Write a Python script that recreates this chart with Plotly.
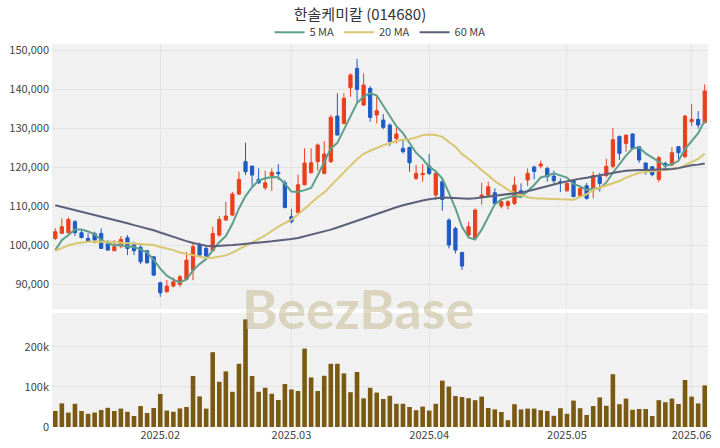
import numpy as np
import pandas as pd
import plotly.graph_objects as go

# ---- data ----
open_ = [101700, 103000, 103150, 105970, 103150, 101700, 102980, 102980, 100240, 98530,
         99730, 101860, 100240, 99390, 98530, 96990, 90320, 88010, 89470, 89900,
         91180, 93570, 99990, 99130, 98530, 102550, 106400, 107680, 113060, 121360,
         120250, 116830, 114690, 117760, 118630, 115970, 107250, 108360, 115460, 118540,
         121360, 118370, 121360, 133070, 131190, 140340, 145300, 135890, 140170, 133330,
         132050, 130770, 127340, 124780, 125030, 117080, 118030, 120250, 112800, 116230,
         106400, 104260, 98100, 102550, 101700, 112370, 112800, 113400, 109980, 110160,
         110670, 113910, 116660, 120000, 120250, 119650, 117680, 116230, 113910, 116490,
         112620, 115200, 114090, 117510, 117850, 120170, 127850, 126060, 128460, 125210,
         121020, 120080, 116830, 120930, 120510, 125210, 122660, 131620, 132220, 131360]
high = [104300, 106820, 107080, 106400, 103830, 102980, 103400, 104260, 101270, 101270,
        102300, 102550, 100840, 99990, 98700, 96990, 90580, 91000, 91690, 92290,
        98270, 100840, 100580, 99730, 104690, 107420, 111100, 113660, 118800, 126230,
        120250, 119650, 119050, 119650, 120760, 116660, 109210, 118030, 124800, 124800,
        126060, 126650, 133330, 138890, 138890, 144020, 147700, 144020, 140770, 138030,
        133580, 131190, 130170, 126910, 125210, 120510, 120760, 123330, 118970, 117080,
        106830, 104690, 98270, 105970, 109380, 115970, 116230, 114520, 111960, 111530,
        117510, 115800, 119650, 120340, 121620, 120080, 119050, 117080, 116230, 116740,
        114780, 115880, 118800, 118540, 122130, 130000, 128100, 128200, 128630, 125210,
        121190, 120250, 122830, 121360, 125030, 125380, 133330, 136150, 134350, 141190]
low = [101300, 103000, 102990, 102300, 101700, 100840, 100400, 99130, 98530, 98530,
       99130, 97420, 97420, 95110, 95280, 92030, 86730, 87840, 89130, 89300,
       91000, 91000, 96990, 96990, 98530, 102120, 106400, 107420, 112800, 117940,
       114950, 115630, 114090, 113910, 116660, 109380, 105540, 108190, 115290, 118370,
       119050, 118120, 121100, 128200, 130930, 138030, 136320, 135630, 131620, 131190,
       129660, 125380, 126060, 123500, 118800, 116660, 116230, 117940, 111530, 108790,
       99130, 97840, 93570, 101700, 101440, 110330, 112370, 110240, 109380, 109130,
       110240, 112800, 115120, 116830, 119650, 116230, 115800, 113570, 113660, 112200,
       112200, 111620, 111960, 113660, 117340, 119650, 121790, 123920, 124350, 121100,
       118030, 117600, 116150, 119400, 120250, 121960, 122230, 130510, 129830, 131190]
close = [103400, 104700, 106570, 103150, 101950, 101000, 101270, 99130, 98700, 99560,
         101440, 99130, 98530, 95710, 95450, 92290, 87760, 89470, 90580, 91860,
         96130, 99560, 97420, 97160, 102980, 106570, 107420, 113060, 116830, 118800,
         117940, 115970, 115970, 118630, 118290, 109640, 105970, 115460, 121020, 121100,
         125630, 123330, 132730, 128200, 137600, 143590, 139910, 141020, 132730, 134440,
         130170, 126490, 128460, 123920, 121100, 118370, 118370, 118370, 118370, 111700,
         99990, 98700, 94600, 104690, 108960, 112800, 114950, 110670, 111100, 111100,
         115370, 113230, 118370, 118880, 120760, 117510, 116490, 115970, 115800, 112460,
         114520, 111960, 117770, 115800, 120170, 127000, 123500, 128200, 124780, 121790,
         119140, 118030, 122400, 120250, 123670, 123670, 133070, 132220, 130770, 139480]
volume = [40000, 59000, 36000, 58000, 40000, 33000, 36000, 42500, 48000, 40000,
          46000, 38000, 27500, 52500, 35000, 47500, 82500, 41000, 38000, 46500,
          50000, 127500, 76500, 46000, 187000, 113000, 139000, 88000, 158000, 269000,
          127500, 88000, 98000, 83000, 67500, 107500, 94000, 90000, 196000, 124000,
          90000, 128000, 158000, 158000, 134000, 87000, 137500, 71700, 98000, 86000,
          70000, 78000, 58000, 58000, 50000, 42000, 51000, 41000, 58000, 116000,
          101000, 77500, 75000, 72000, 67000, 76000, 47500, 44000, 37500, 17000,
          57000, 44000, 46000, 46000, 42000, 40000, 28000, 47000, 33000, 66000,
          47000, 30000, 52500, 74000, 53000, 132000, 57000, 71000, 43000, 45000,
          45000, 27500, 67000, 62000, 71000, 57500, 117500, 76000, 59000, 104000]

# moving-average values visible before enough in-window history exists
ma5_head = [98700, 101270, 102550, 104000]
ma20_head = [98530, 99300, 99900, 100400, 100700, 100840, 100900, 100880, 100840, 100750,
             100600, 100450, 100300, 100240, 100100, 99990, 99500, 99100, 98700]
ma60_head = [110200, 109800, 109400, 108900, 108500, 108100, 107700, 107300, 106800, 106400,
             106000, 105600, 105100, 104700, 104300, 103800, 103200, 102600, 102000, 101400,
             101000, 100500, 100100, 99800, 99700, 99750, 99850, 100000, 100150, 100350,
             100500, 100650, 100800, 100950, 101100, 101300, 101530, 101800, 102200, 102600,
             103000, 103450, 103950, 104500, 105100, 105700, 106300, 106900, 107500, 108100,
             108700, 109200, 109700, 110200, 110650, 111050, 111400, 111750, 112000]

tick_index = [16, 36, 57, 78, 97]
tick_text = ["2025.02", "2025.03", "2025.04", "2025.05", "2025.06"]
price_ticks = [90000, 100000, 110000, 120000, 130000, 140000, 150000]
vol_ticks = [0, 100000, 200000]

# ---- derived ----
x = list(range(len(close)))
cs = pd.Series(close, dtype=float)
ma5 = cs.rolling(5).mean().to_numpy()
ma5[:len(ma5_head)] = ma5_head
ma20 = cs.rolling(20).mean().to_numpy()
ma20[:len(ma20_head)] = ma20_head
ma60 = cs.rolling(60).mean().to_numpy()
ma60[:len(ma60_head)] = ma60_head

UP = "#e8401c"
DOWN = "#1f5bc6"
FONT = "Noto Sans CJK KR"

fig = go.Figure()
fig.add_trace(go.Candlestick(
    x=x, open=open_, high=high, low=low, close=close,
    increasing=dict(line=dict(color=UP, width=1), fillcolor=UP),
    decreasing=dict(line=dict(color=DOWN, width=1), fillcolor=DOWN),
    showlegend=False, xaxis="x", yaxis="y", hoverinfo="skip"))
fig.add_trace(go.Scatter(x=x, y=ma5, mode="lines", name="5 MA",
                         line=dict(color="#5e9f8b", width=2), xaxis="x", yaxis="y"))
fig.add_trace(go.Scatter(x=x, y=ma20, mode="lines", name="20 MA",
                         line=dict(color="#d8c76e", width=2), xaxis="x", yaxis="y"))
fig.add_trace(go.Scatter(x=x, y=ma60, mode="lines", name="60 MA",
                         line=dict(color="#5a6079", width=2), xaxis="x", yaxis="y"))
fig.add_trace(go.Bar(x=x, y=volume, marker=dict(color="#7a5a12", line=dict(width=0)),
                     showlegend=False, xaxis="x2", yaxis="y2"))

grid = "#e3e3e3"
fig.update_layout(
    width=720, height=448,
    margin=dict(l=52, r=12, t=44, b=21, autoexpand=False),
    paper_bgcolor="white", plot_bgcolor="#f1f1f1",
    font=dict(family=FONT, size=11, color="#444"),
    title=dict(text="한솔케미칼 (014680)", x=0.5, xanchor="center", y=0.968, yanchor="middle",
               font=dict(family=FONT, size=15, color="#333")),
    legend=dict(orientation="h", x=0.5, xanchor="center", y=1.031, yanchor="middle",
                font=dict(family=FONT, size=11, color="#444"), bgcolor="rgba(0,0,0,0)",
                tracegroupgap=0),
    bargap=0.3,
    xaxis=dict(domain=[0, 1], range=[-0.5, len(x) - 0.5], anchor="y", automargin=False,
               tickvals=tick_index, ticktext=tick_text, showticklabels=False,
               showgrid=True, gridcolor=grid, zeroline=False, rangeslider=dict(visible=False),
               matches="x2"),
    yaxis=dict(domain=[0.308, 1.0], range=[83590, 151540], tickvals=price_ticks,
               tickformat=",", showgrid=True, gridcolor=grid, zeroline=False,
               ticks="", ticklabelstandoff=2, automargin=False),
    xaxis2=dict(domain=[0, 1], range=[-0.5, len(x) - 0.5], anchor="y2", automargin=False,
                tickvals=tick_index, ticktext=tick_text, showgrid=True, gridcolor=grid,
                zeroline=False, ticks="", tickfont=dict(size=11, color="#444")),
    yaxis2=dict(domain=[0.0, 0.2977], range=[0, 285000], tickvals=vol_ticks,
                tickformat="~s", showgrid=True, gridcolor=grid, zeroline=False,
                ticks="", ticklabelstandoff=2, automargin=False),
    showlegend=True,
    annotations=[dict(text="<b>BeezBase</b>", x=0.466, y=0.31, xref="paper", yref="paper",
                      showarrow=False, xanchor="center", yanchor="middle",
                      font=dict(family="Lato", size=54, color="rgba(196,184,140,0.5)"))],
)

fig.write_html("out.html", config={"displayModeBar": False},
               post_script="document.body.style.margin='0';")
